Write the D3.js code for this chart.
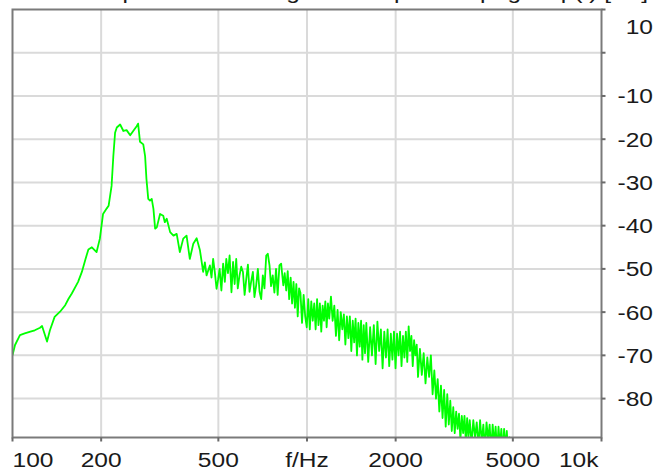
<!DOCTYPE html>
<html>
<head>
<meta charset="utf-8">
<script src="https://cdn.jsdelivr.net/npm/d3@7"></script>
<style>
  html, body { margin: 0; padding: 0; background: #ffffff; }
  svg { display: block; }
  text { font-family: "Liberation Sans", Arial, sans-serif; fill: #1a1a1a; }
</style>
</head>
<body>
<svg id="chart" width="658" height="470"></svg>
<script>
// ---------------- data ----------------
const titleText = "Spektrum des Signals: Amplitudenpegel Lp(f) [dB]";
const xTicks = [100, 200, 500, 1000, 2000, 5000, 10000];
const xTickLabels = ["100", "200", "500", "f/Hz", "2000", "5000", "10k"];
const yTicks = [10, 0, -10, -20, -30, -40, -50, -60, -70, -80];
const yTickLabels = ["10", "", "-10", "-20", "-30", "-40", "-50", "-60", "-70", "-80"];

const freqHz = [
  100, 102, 106, 110, 115, 119, 124, 126, 131, 134, 139, 145, 151, 155, 159, 167, 172, 177, 181, 186,
  193, 198, 203, 209, 212, 217, 220, 223, 226, 232, 238, 244, 251, 257, 264, 267, 271, 278, 282, 285,
  289, 293, 297, 301, 305, 309, 317, 325, 329, 334, 343, 352, 361, 370, 380, 390, 400, 411, 422, 433,
  444, 450, 456, 468, 474, 480, 486, 493, 499, 505, 512, 519, 526, 532, 539, 546, 554, 561, 568, 575,
  582, 590, 598, 606, 614, 622, 630, 638, 646, 655, 663, 672, 681, 690, 699, 708, 717, 727, 736, 746,
  755, 765, 775, 785, 795, 806, 817, 823, 831, 840, 850, 860, 870, 880, 890, 900, 910, 920, 930, 940,
  950, 962, 974, 986, 998, 1010, 1022, 1034, 1046, 1058, 1070, 1082, 1094, 1106, 1118, 1130, 1142, 1154, 1166, 1178, 1190,
  1206, 1222, 1238, 1254, 1270, 1286, 1302, 1318, 1334, 1350, 1366, 1382, 1398, 1414, 1430, 1446, 1462, 1478, 1494, 1510,
  1526, 1542, 1558, 1574, 1590,
  1614, 1638, 1662, 1686, 1710, 1734, 1758, 1782, 1806, 1830, 1854, 1878, 1902, 1926, 1950, 1974, 1998, 2022, 2046, 2070,
  2094, 2118, 2142, 2166, 2190, 2214, 2238, 2262, 2286, 2310, 2334, 2358, 2382,
  2418, 2454, 2490, 2526, 2562, 2598, 2634, 2670, 2706, 2742, 2778, 2814, 2850, 2886, 2922, 2958, 2994, 3030, 3066, 3102,
  3138, 3174, 3210, 3246, 3282, 3318, 3354, 3390, 3426, 3462, 3498, 3534, 3570,
  3620, 3670, 3720, 3770, 3820, 3870, 3920, 3970, 4020, 4070, 4120, 4170, 4220, 4270, 4320, 4370, 4420, 4470, 4520, 4570,
  4620, 4670, 4720, 4770, 4820, 4870, 4920, 5000
];

const levelDb = [
  -70.0, -67.6, -65.3, -64.9, -64.5, -64.2, -63.6, -63.2, -66.8, -64.2, -61.1, -59.9, -58.4, -56.9, -55.7, -53.0, -50.7, -47.7, -45.5, -45.0,
  -46.1, -43.0, -37.3, -36.0, -35.4, -30.8, -23.9, -18.5, -17.3, -16.6, -18.1, -17.9, -19.1, -18.1, -17.0, -16.4, -20.6, -21.2, -23.9, -29.2,
  -33.8, -34.2, -33.8, -36.1, -40.7, -40.4, -37.3, -37.7, -39.2, -38.4, -41.5, -42.3, -41.9, -46.1, -43.0, -42.3, -47.7, -44.2, -42.9, -45.7,
  -50.7, -48.5, -51.5, -49.2, -52.0, -47.7, -50.5, -54.6, -52.5, -50.0, -55.0, -48.8, -53.0, -47.7, -51.0, -46.9, -55.4, -48.4, -53.5, -47.7,
  -54.5, -51.5, -49.5, -50.7, -56.0, -52.3, -49.0, -55.3, -53.0, -50.7, -56.5, -53.8, -50.0, -55.3, -57.0, -51.5, -54.5, -46.9, -46.5, -49.2,
  -54.0, -51.5, -55.5, -50.0, -56.0, -49.2, -48.8, -51.0, -53.8, -51.0, -55.0, -50.5, -57.0, -52.0, -58.0, -53.0, -59.0, -53.5, -61.0, -54.5,
  -55.5, -62.5, -56.0, -61.0, -63.5, -57.0, -64.0, -57.5, -62.0, -58.0, -64.0, -57.0, -63.0, -58.0, -64.5, -58.5, -62.0, -57.5, -63.5, -58.0, -61.5,
  -56.4, -62.0, -58.5, -65.5, -59.5, -66.5, -60.0, -64.0, -60.5, -67.5, -61.0, -66.0, -61.0, -69.0, -62.0, -67.0, -61.5, -70.0, -62.5, -68.0,
  -62.0, -71.0, -63.0, -69.5, -62.5,
  -71.5, -63.5, -70.0, -63.0, -72.0, -62.2, -69.0, -64.0, -73.0, -64.5, -70.5, -64.0, -72.5, -65.0, -71.0, -64.5, -73.0, -65.0, -70.0, -64.5,
  -72.5, -65.5, -70.5, -64.5, -71.5, -63.3, -69.0, -65.5, -72.5, -66.5, -70.0, -67.5, -75.0,
  -68.5, -74.5, -69.5, -76.5, -70.5, -75.0, -70.0, -79.0, -73.5, -80.0, -75.5, -83.0, -77.0, -84.5, -78.0, -86.5, -79.0, -86.0, -80.5, -87.5,
  -82.0, -88.0, -83.0, -87.0, -83.5, -89.5, -84.0, -88.0, -84.0, -90.0, -84.5, -89.0, -85.0,
  -90.5, -85.0, -89.0, -85.5, -91.0, -85.0, -90.0, -86.0, -91.5, -85.5, -89.5, -86.0, -92.0, -86.0, -90.5, -86.5, -92.0, -86.5, -91.0, -87.0,
  -92.5, -87.0, -91.5, -87.5, -93.0, -89.0, -94.0, -92.0
];

// ---------------- layout ----------------
const W = 658, H = 470;
const plot = { left: 12.5, right: 601.5, top: 9.5, bottom: 437.5 };
const fontSize = 21;
const stretch = 1.17;

const svg = d3.select("#chart");

const x = d3.scaleLog().domain([100, 10000]).range([plot.left, plot.right]);
const y = d3.scaleLinear().domain([10, -89]).range([plot.top, plot.bottom]);

svg.append("defs").append("clipPath").attr("id", "plotClip")
  .append("rect")
  .attr("x", plot.left).attr("y", plot.top)
  .attr("width", plot.right - plot.left).attr("height", plot.bottom - plot.top);

// title (cut off at the top of the picture, as in the reference)
svg.append("text")
  .attr("transform", `translate(${648},${-1}) scale(${stretch},1)`)
  .attr("text-anchor", "end")
  .style("font-size", fontSize + "px")
  .text(titleText);

// grid
const grid = svg.append("g");
grid.selectAll("line.gx").data(xTicks.slice(1, -1)).join("line")
  .attr("x1", d => x(d)).attr("x2", d => x(d))
  .attr("y1", plot.top).attr("y2", plot.bottom)
  .attr("stroke", "#dadada").attr("stroke-width", 2);
grid.selectAll("line.gy").data(yTicks.slice(1)).join("line")
  .attr("x1", plot.left).attr("x2", plot.right)
  .attr("y1", d => y(d)).attr("y2", d => y(d))
  .attr("stroke", "#dadada").attr("stroke-width", 2);

// spectrum line
const pts = freqHz.map((f, i) => [f, levelDb[i]]);
svg.append("g").attr("clip-path", "url(#plotClip)")
  .append("path")
  .datum(pts)
  .attr("d", d3.line().x(d => x(d[0])).y(d => y(d[1])))
  .attr("fill", "none")
  .attr("stroke", "#00ff00")
  .attr("stroke-width", 1.8)
  .attr("stroke-linejoin", "round");

// frame
svg.append("rect")
  .attr("x", plot.left).attr("y", plot.top)
  .attr("width", plot.right - plot.left).attr("height", plot.bottom - plot.top)
  .attr("fill", "none").attr("stroke", "#7a7a7a").attr("stroke-width", 2);

// right axis ticks
svg.append("g").selectAll("line").data(yTicks).join("line")
  .attr("x1", plot.right).attr("x2", plot.right + 4)
  .attr("y1", d => y(d)).attr("y2", d => y(d))
  .attr("stroke", "#6a6a6a").attr("stroke-width", 2);

// bottom axis ticks
svg.append("g").selectAll("line").data(xTicks).join("line")
  .attr("x1", d => x(d)).attr("x2", d => x(d))
  .attr("y1", plot.bottom).attr("y2", plot.bottom + 4)
  .attr("stroke", "#6a6a6a").attr("stroke-width", 2);

// right axis labels
svg.append("g").selectAll("text").data(yTicks.map((v, i) => ({ v, t: yTickLabels[i] })).filter(d => d.t !== ""))
  .join("text")
  .attr("transform", d => {
    const base = Math.max(y(d.v) + 7.5, plot.top + 24);
    return `translate(${653},${base}) scale(${stretch},1)`;
  })
  .attr("text-anchor", "end")
  .style("font-size", fontSize + "px")
  .text(d => d.t);

// bottom axis labels, kept inside the frame width
const xl = svg.append("g").selectAll("text").data(xTicks.map((v, i) => ({ v, t: xTickLabels[i] })))
  .join("text")
  .attr("text-anchor", "middle")
  .style("font-size", fontSize + "px")
  .text(d => d.t);
xl.each(function (d) {
  const w = this.getComputedTextLength() * stretch;
  let cx = x(d.v);
  if (cx - w / 2 < plot.left) cx = plot.left + w / 2;
  if (cx + w / 2 > plot.right - 3) cx = plot.right - 3 - w / 2;
  d3.select(this).attr("transform", `translate(${cx},${466.5}) scale(${stretch},1)`);
});
</script>
</body>
</html>
